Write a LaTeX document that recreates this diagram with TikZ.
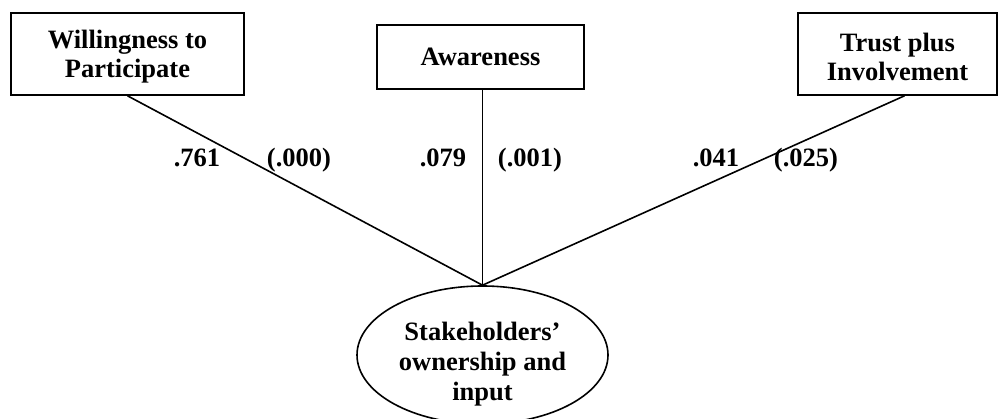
\documentclass[tikz,border=0pt]{standalone}
\usepackage{fontspec}
\setmainfont{Liberation Serif}
\usetikzlibrary{shapes.geometric,calc}
\begin{document}
\begin{tikzpicture}[x=1pt,y=-1pt,
  txt/.style={font=\fontsize{26.5}{29}\selectfont\bfseries, align=center},
  box/.style={txt, draw, line width=1.6pt, rectangle, inner sep=0pt},
  oval/.style={draw, line width=1.6pt, ellipse, inner sep=0pt, minimum width=251pt, minimum height=138pt},
  link/.style={line width=1.6pt},
  coef/.style={txt, inner sep=0pt, anchor=base}]
\useasboundingbox (0,0) rectangle (998,419);
\node[box, minimum width=233pt, minimum height=82pt] (b1) at (127.5,54) {};
\node[txt, inner sep=0pt] (t1) at (127.5,57) {Willingness to\\Participate};
\node[box, minimum width=207pt, minimum height=64pt] (b2) at (480.5,57) {Awareness};
\node[box, minimum width=199pt, minimum height=82pt] (b3) at (897.5,54) {};
\node[txt, inner sep=0pt] (t3) at (897.5,57) {Trust plus\\Involvement};
\node[oval] (s) at (482.5,355) {};
\node[txt, font=\fontsize{26.5}{30}\selectfont\bfseries, inner sep=0pt] (st) at (482.5,364) {Stakeholders’\\ownership and\\input};
\draw[link] (b1.south) -- (s.north);
\draw[link] (s.north |- b2.south) -- (s.north);
\draw[link] ($(b3.south)+(7,0)$) -- (s.north);
\node[coef] (c1) at (197,167) {.761};
\node[coef] (p1) at (299,167) {(.000)};
\node[coef] (c2) at (443,167) {.079};
\node[coef] (p2) at (530,167) {(.001)};
\node[coef] (c3) at (716,167) {.041};
\node[coef] (p3) at (806,167) {(.025)};
\end{tikzpicture}
\end{document}
